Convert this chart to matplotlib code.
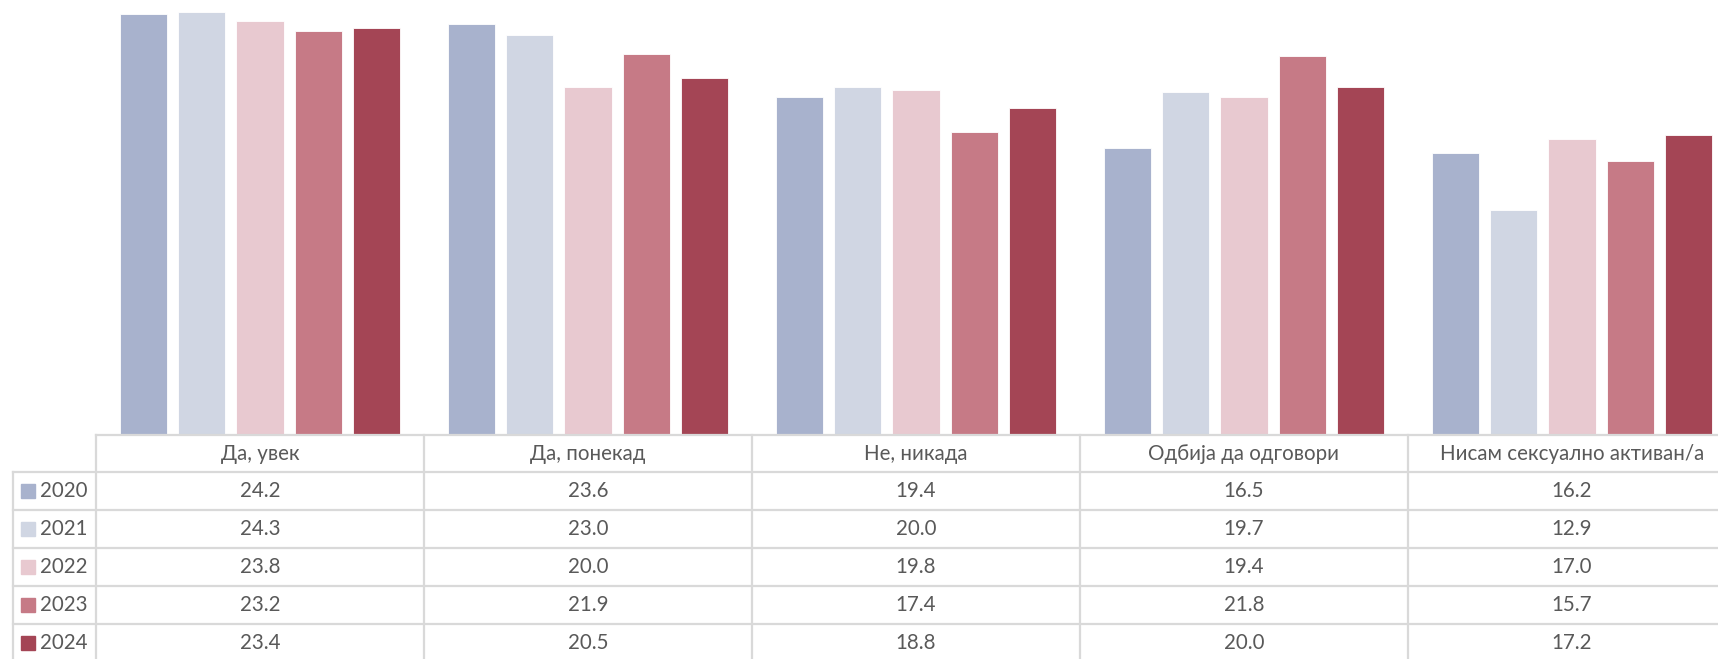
import matplotlib.pyplot as plt
from matplotlib.lines import Line2D
from matplotlib.patches import Rectangle

categories = ['Да, увек', 'Да, понекад', 'Не, никада', 'Одбија да одговори', 'Нисам сексуално активан/а']
years = ['2020', '2021', '2022', '2023', '2024']
v2020 = [24.2, 23.6, 19.4, 16.5, 16.2]
v2021 = [24.3, 23.0, 20.0, 19.7, 12.9]
v2022 = [23.8, 20.0, 19.8, 19.4, 17.0]
v2023 = [23.2, 21.9, 17.4, 21.8, 15.7]
v2024 = [23.4, 20.5, 18.8, 20.0, 17.2]
series = [v2020, v2021, v2022, v2023, v2024]
colors = ['#A8B2CD', '#D0D6E3', '#E8C9D0', '#C67A86', '#A44555']

W, H = 1718, 659
plt.rcParams['font.family'] = ['Lato', 'DejaVu Sans']
fig = plt.figure(figsize=(W / 100, H / 100), dpi=100)

# pixel -> figure fraction
def fx(x):
    return x / W

def fy(y):
    return 1 - y / H

col_left = 96
col_w = 328
base_y = 434

ax = fig.add_axes([fx(col_left), fy(base_y), (5 * col_w) / W, base_y / H])
step = 0.178
width = 0.144
for i, vals in enumerate(series):
    xs = [c + (i - 2) * step for c in range(len(categories))]
    ax.bar(xs, vals, width=width, color=colors[i], edgecolor='white', linewidth=0.6)
ax.set_xlim(-0.5, len(categories) - 0.5)
ax.set_ylim(0, 25)
ax.axis('off')

# data table under the bars
grid = '#D9D9D9'
text_c = '#595959'
fs = 14.8
row_tops = [435, 472, 510, 548, 586, 624, 662]
right = col_left + 5 * col_w

def hline(y, x0, x1):
    fig.add_artist(Line2D([fx(x0), fx(x1)], [fy(y), fy(y)], color=grid, lw=1.6))

def vline(x, y0, y1):
    fig.add_artist(Line2D([fx(x), fx(x)], [fy(y0), fy(y1)], color=grid, lw=1.6))

hline(row_tops[0], col_left, right)
for y in row_tops[1:]:
    hline(y, 13, right)
vline(13, row_tops[1], H + 5)
for k in range(6):
    vline(col_left + k * col_w, row_tops[0], H + 5)

for j, cat in enumerate(categories):
    cx = col_left + (j + 0.5) * col_w
    fig.text(fx(cx), fy((row_tops[0] + row_tops[1]) / 2), cat, ha='center', va='center',
             fontsize=fs, color=text_c)

for i, yr in enumerate(years):
    cy = (row_tops[i + 1] + row_tops[i + 2]) / 2
    fig.add_artist(Rectangle((fx(21), fy(cy + 7)), 14 / W, 14 / H, color=colors[i],
                             transform=fig.transFigure))
    fig.text(fx(40), fy(cy), yr, ha='left', va='center', fontsize=fs, color=text_c)
    for j in range(len(categories)):
        cx = col_left + (j + 0.5) * col_w
        fig.text(fx(cx), fy(cy), f'{series[i][j]:.1f}', ha='center', va='center',
                 fontsize=fs, color=text_c)

plt.savefig('out.png', dpi=100)
